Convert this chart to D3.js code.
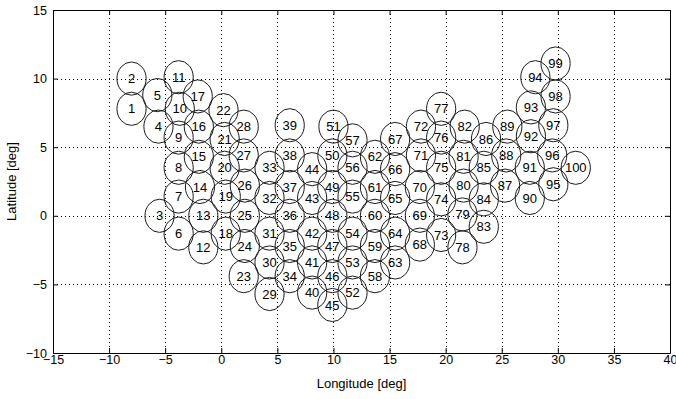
<!DOCTYPE html>
<html>
<head>
<meta charset="utf-8">
<script src="https://cdn.jsdelivr.net/npm/d3@7"></script>
<style>
  body { margin: 0; background: #fff; }
  svg { display: block; }
  .tick text { font-family: "Liberation Sans", Arial, sans-serif; font-size: 12.5px; fill: #000; }
  .beam-label { font-family: "Liberation Sans", Arial, sans-serif; font-size: 13px; fill: #000; }
  .axis-title { font-family: "Liberation Sans", Arial, sans-serif; font-size: 13px; fill: #000; }
</style>
</head>
<body>
<div id="chart"></div>
<script>
// beam footprint centres (deg)
const beamLon = [
  -8.0, -8.0, -5.5, -5.6, -5.7,
  -3.8, -3.8, -3.8, -3.8, -3.7, -3.8,
  -1.6, -1.6, -1.9, -2.0, -2.0, -2.1,
  0.4, 0.4, 0.3, 0.3, 0.2,
  2.0, 2.1, 2.1, 2.1, 2.0, 2.0,
  4.3, 4.3, 4.3, 4.3, 4.3,
  6.1, 6.1, 6.1, 6.1, 6.1, 6.1,
  8.1, 8.1, 8.1, 8.1, 8.1,
  9.9, 9.9, 9.9, 9.9, 9.9, 9.9, 10.0,
  11.7, 11.7, 11.7, 11.7, 11.7, 11.7,
  13.7, 13.7, 13.7, 13.7, 13.7,
  15.5, 15.5, 15.5, 15.5, 15.5,
  17.7, 17.7, 17.7, 17.8, 17.8,
  19.6, 19.6, 19.6, 19.6, 19.6,
  21.5, 21.5, 21.6, 21.6, 21.7,
  23.4, 23.4, 23.4, 23.6,
  25.3, 25.4, 25.5,
  27.5, 27.5, 27.6, 27.6, 28.0,
  29.6, 29.5, 29.6, 29.8, 29.8,
  31.6
];
const beamLat = [
  7.8, 10.0, 0.0, 6.5, 8.8,
  -1.3, 1.4, 3.5, 5.7, 7.8, 10.1,
  -2.3, 0.0, 2.1, 4.3, 6.5, 8.7,
  -1.3, 1.4, 3.5, 5.6, 7.7,
  -4.4, -2.2, 0.0, 2.2, 4.4, 6.5,
  -5.7, -3.4, -1.3, 1.3, 3.5,
  -4.4, -2.2, 0.0, 2.1, 4.4, 6.6,
  -5.6, -3.4, -1.3, 1.3, 3.4,
  -6.5, -4.4, -2.2, 0.0, 2.1, 4.4, 6.5,
  -5.6, -3.4, -1.3, 1.4, 3.5, 5.5,
  -4.4, -2.2, 0.0, 2.1, 4.3,
  -3.4, -1.3, 1.3, 3.4, 5.6,
  -2.1, 0.0, 2.1, 4.4, 6.5,
  -1.4, 1.2, 3.5, 5.7, 7.8,
  -2.3, 0.1, 2.2, 4.3, 6.5,
  -0.8, 1.2, 3.5, 5.6,
  2.2, 4.4, 6.5,
  1.3, 3.5, 5.8, 7.9, 10.1,
  2.3, 4.4, 6.6, 8.7, 11.1,
  3.5
];
const beamIds = d3.range(1, beamLon.length + 1);

const xTicks = [-15, -10, -5, 0, 5, 10, 15, 20, 25, 30, 35, 40];
const yTicks = [-10, -5, 0, 5, 10, 15];

// footprint half widths in degrees
const beamRadLon = 1.3;
const beamRadLat = 1.21;

let margin = { top: 10, right: 6, bottom: 46, left: 53 },
  width = 676 - margin.left - margin.right,
  height = 399 - margin.top - margin.bottom;

let svg = d3.select("#chart").append("svg")
  .attr("width", 676).attr("height", 399);

let g = svg.append("g")
  .attr("transform", "translate(" + margin.left + "," + margin.top + ")");

let x = d3.scaleLinear().domain([-15, 40]).range([0, width]);
let y = d3.scaleLinear().domain([-10, 15]).range([height, 0]);

// dotted grid
g.append("g").selectAll("line").data(xTicks.slice(1, -1)).enter().append("line")
  .attr("x1", d => Math.round(x(d)) + 0.5).attr("x2", d => Math.round(x(d)) + 0.5)
  .attr("y1", 0).attr("y2", height)
  .attr("stroke", "#000").attr("stroke-width", 1).attr("stroke-dasharray", "1,3");
g.append("g").selectAll("line").data(yTicks.slice(1, -1)).enter().append("line")
  .attr("y1", d => Math.round(y(d)) + 0.5).attr("y2", d => Math.round(y(d)) + 0.5)
  .attr("x1", 0).attr("x2", width)
  .attr("stroke", "#000").attr("stroke-width", 1).attr("stroke-dasharray", "1,3");

// beams
let beams = g.append("g").selectAll(".beam")
  .data(beamIds).enter().append("g").attr("class", "beam");

beams.append("ellipse")
  .attr("cx", (d, i) => x(beamLon[i]))
  .attr("cy", (d, i) => y(beamLat[i]))
  .attr("rx", x(beamRadLon) - x(0))
  .attr("ry", y(0) - y(beamRadLat))
  .attr("fill", "none")
  .attr("stroke", "#1a1a1a")
  .attr("stroke-width", 1);

beams.append("text")
  .attr("class", "beam-label")
  .attr("x", (d, i) => x(beamLon[i]))
  .attr("y", (d, i) => y(beamLat[i]))
  .attr("dy", "0.36em")
  .attr("text-anchor", "middle")
  .text(d => d);

// axes, ticks inside like matlab
let xAxis = g.append("g").attr("class", "x axis")
  .attr("transform", "translate(0," + height + ")")
  .call(d3.axisBottom(x).tickValues(xTicks).tickSizeInner(-5).tickSizeOuter(0).tickPadding(5));
let yAxis = g.append("g").attr("class", "y axis")
  .call(d3.axisLeft(y).tickValues(yTicks).tickSizeInner(-5).tickSizeOuter(0).tickPadding(6));
g.append("g").attr("transform", "translate(0,0)")
  .call(d3.axisTop(x).tickValues(xTicks).tickSizeInner(-5).tickSizeOuter(0).tickFormat(""));
g.append("g").attr("transform", "translate(" + width + ",0)")
  .call(d3.axisRight(y).tickValues(yTicks).tickSizeInner(-5).tickSizeOuter(0).tickFormat(""));
g.selectAll(".domain").attr("stroke", "#000");
g.selectAll(".tick line").attr("stroke", "#000");

xAxis.selectAll("text").attr("dy", "0.5em");

svg.append("text").attr("class", "axis-title")
  .attr("x", margin.left + width / 2).attr("y", 388)
  .attr("text-anchor", "middle")
  .text("Longitude [deg]");

svg.append("text").attr("class", "axis-title")
  .attr("transform", "translate(16," + (margin.top + height / 2) + ") rotate(-90)")
  .attr("text-anchor", "middle")
  .text("Latitude [deg]");
</script>
</body>
</html>
